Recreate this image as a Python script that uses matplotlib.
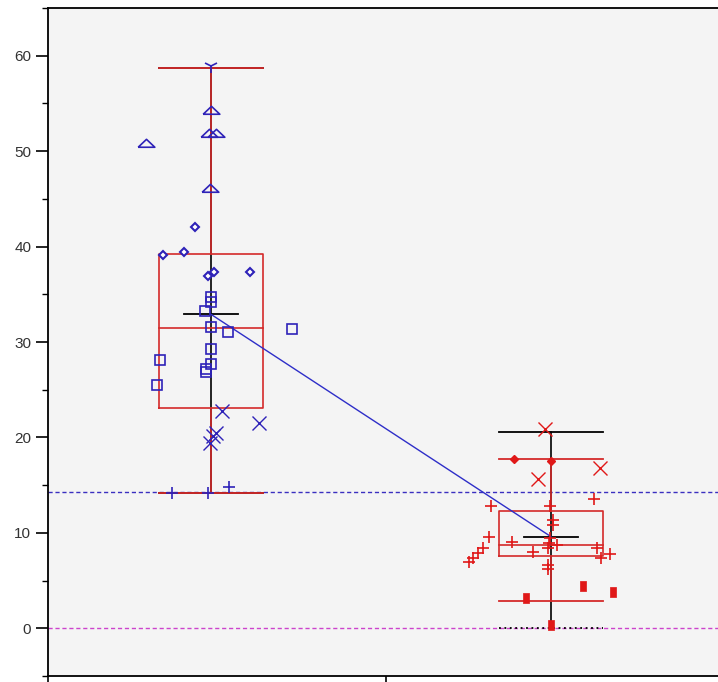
import matplotlib
matplotlib.use("Agg")
import matplotlib.pyplot as plt
import numpy as np

# ---------------- data ----------------
categories = [1, 2]
# box statistics (whisker low, Q1, median, Q3, whisker high)
box_stats = {
    1: dict(wlo=14.2, q1=23.1, med=31.5, q3=39.2, whi=58.7),
    2: dict(wlo=2.9, q1=7.6, med=8.7, q3=12.25, whi=17.7),
}
means = [32.9, 9.6]
sd_lo = [14.2, 0.0]
sd_hi = [58.7, 20.6]
ref_blue = 14.3
ref_zero = 0.0

# group 1 points: (x offset, value)
g1_tri_x = [-0.191, 0.0, -0.006, 0.015, -0.003]
g1_tri_y = [50.9, 54.3, 51.9, 51.9, 46.1]
g1_tdown_x = [0.0]
g1_tdown_y = [58.9]
g1_dia_x = [-0.047, -0.141, -0.079, 0.009, -0.009, 0.115]
g1_dia_y = [42.0, 39.1, 39.4, 37.3, 36.9, 37.3]
g1_sq_x = [0.0, 0.0, -0.018, 0.0, 0.050, 0.238, 0.0, -0.150, 0.0, -0.015, -0.015, -0.159]
g1_sq_y = [34.7, 34.2, 33.3, 31.6, 31.0, 31.4, 29.3, 28.1, 27.7, 27.2, 26.9, 25.5]
g1_x_x = [0.032, 0.141, 0.015, -0.003, 0.006]
g1_x_y = [22.8, 21.5, 20.5, 19.4, 20.1]
g1_plus_x = [-0.115, -0.009, 0.053]
g1_plus_y = [14.2, 14.2, 14.8]

# group 2 points
g2_x_x = [-0.018, 0.144, -0.038]
g2_x_y = [20.9, 16.8, 15.6]
g2_dot_x = [-0.109, 0.0]
g2_dot_y = [17.7, 17.5]
g2_plus_x = [0.126, -0.176, -0.003, 0.006, 0.006, -0.182, -0.115, -0.003, -0.006,
             0.018, -0.200, -0.215, -0.229, -0.241, -0.053, -0.009, 0.135, 0.147,
             0.174, -0.009, -0.009]
g2_plus_y = [13.6, 12.8, 12.8, 11.3, 10.8, 9.6, 9.0, 9.5, 8.9,
             8.7, 8.4, 7.9, 7.4, 6.9, 8.0, 8.4, 8.4, 7.4,
             7.8, 6.6, 6.2]
g2_sq_x = [-0.074, 0.094, 0.182, 0.0]
g2_sq_y = [3.2, 4.4, 3.8, 0.3]

yticks = [0, 10, 20, 30, 40, 50, 60]

# ---------------- style ----------------
BLUE = "#2e22b8"
RED = "#e01818"
BOXRED = "#d42a2a"
BG = "#f4f4f4"

fig = plt.figure(figsize=(7.18, 6.82), dpi=100)
W, H = 718, 682
ax = fig.add_axes([48 / W, 6 / H, (718 - 48) / W, (676 - 8) / H])
ax.set_facecolor(BG)
ax.set_xlim(0.5206, 0.5206 + 670 / 340)
ax.set_ylim(-5, 65)

ax.spines["right"].set_visible(False)
for s in ["left", "top", "bottom"]:
    ax.spines[s].set_linewidth(1.3)

ax.set_yticks(yticks)
ax.set_yticklabels([str(t) for t in yticks], fontsize=11, family="Liberation Sans",
                   color="#333333")
ax.set_yticks(np.arange(-5, 66, 5), minor=True)
ax.tick_params(axis="y", which="major", length=9, width=1.2, direction="out", pad=3)
ax.tick_params(axis="y", which="minor", length=4.5, width=1.0, direction="out")
ax.set_xticks([0.5206, 1.515])
ax.set_xticklabels(["", ""])
ax.tick_params(axis="x", length=8, width=1.2, direction="out")

# reference lines
ax.axhline(ref_blue, color="#3a2fc0", lw=1.0, ls=(0, (3, 2)), zorder=1)
ax.axhline(ref_zero, color="#cc44cc", lw=1.0, ls=(0, (3, 2)), zorder=1)

half = 0.152
# mean +- sd (black)
for c, lo, hi in zip(categories, sd_lo, sd_hi):
    ax.plot([c, c], [lo, hi], color="black", lw=1.2, zorder=2)
    ax.plot([c - half, c + half], [hi, hi], color="black", lw=1.3, zorder=2)
    ls = (0, (1, 2)) if lo == 0 else "-"
    ax.plot([c - half, c + half], [lo, lo], color="black", lw=1.3, ls=ls, zorder=2)

# boxes (red)
for c in categories:
    b = box_stats[c]
    ax.plot([c - half, c + half, c + half, c - half, c - half],
            [b["q1"], b["q1"], b["q3"], b["q3"], b["q1"]], color=BOXRED, lw=1.2, zorder=3)
    ax.plot([c - half, c + half], [b["med"], b["med"]], color=BOXRED, lw=1.2, zorder=3)
    ax.plot([c, c], [b["q3"], b["whi"]], color=BOXRED, lw=1.2, zorder=3)
    ax.plot([c, c], [b["wlo"], b["q1"]], color=BOXRED, lw=1.2, zorder=3)
    ax.plot([c - half, c + half], [b["whi"], b["whi"]], color=BOXRED, lw=1.3, zorder=3)
    ax.plot([c - half, c + half], [b["wlo"], b["wlo"]], color=BOXRED, lw=1.3, zorder=3)

# mean markers and connecting line
for c, m in zip(categories, means):
    ax.plot([c - 0.078, c + 0.078], [m, m], color="black", lw=1.3, zorder=4)
ax.plot(categories, means, color="#2e2ec8", lw=1.0, zorder=4)

# custom markers
flat_tri = [(-1, -0.45), (1, -0.45), (0, 0.5), (-1, -0.45)]
tall_rect = [(-0.6, -1), (0.6, -1), (0.6, 1), (-0.6, 1), (-0.6, -1)]

def pts(c, xs, ys):
    return [c + v for v in xs], ys

x, y = pts(1, g1_tri_x, g1_tri_y)
ax.plot(x, y, ls="none", marker=flat_tri, ms=12, mfc="none", mec=BLUE, mew=1.2, zorder=5)
x, y = pts(1, g1_tdown_x, g1_tdown_y)
ax.plot(x, y, ls="none", marker="1", ms=10, mec=BLUE, mew=1.2, zorder=5)
x, y = pts(1, g1_dia_x, g1_dia_y)
ax.plot(x, y, ls="none", marker="D", ms=4, mfc="white", mec=BLUE, mew=1.5, zorder=5)
x, y = pts(1, g1_sq_x, g1_sq_y)
ax.plot(x, y, ls="none", marker="s", ms=7, mfc="none", mec=BLUE, mew=1.2, zorder=5)
x, y = pts(1, g1_x_x, g1_x_y)
ax.plot(x, y, ls="none", marker="x", ms=10, mec=BLUE, mew=1.0, zorder=5)
x, y = pts(1, g1_plus_x, g1_plus_y)
ax.plot(x, y, ls="none", marker="+", ms=9, mec=BLUE, mew=1.2, zorder=5)

x, y = pts(2, g2_x_x, g2_x_y)
ax.plot(x, y, ls="none", marker="x", ms=10, mec=RED, mew=1.0, zorder=5)
x, y = pts(2, g2_dot_x, g2_dot_y)
ax.plot(x, y, ls="none", marker="D", ms=4.5, mfc=RED, mec=RED, mew=1.0, zorder=5)
x, y = pts(2, g2_plus_x, g2_plus_y)
ax.plot(x, y, ls="none", marker="+", ms=9, mec=RED, mew=1.2, zorder=5)
x, y = pts(2, g2_sq_x, g2_sq_y)
ax.plot(x, y, ls="none", marker=tall_rect, ms=7, mfc=RED, mec=RED, mew=0.5, zorder=5)

fig.savefig("out.png", dpi=100, facecolor="white")
